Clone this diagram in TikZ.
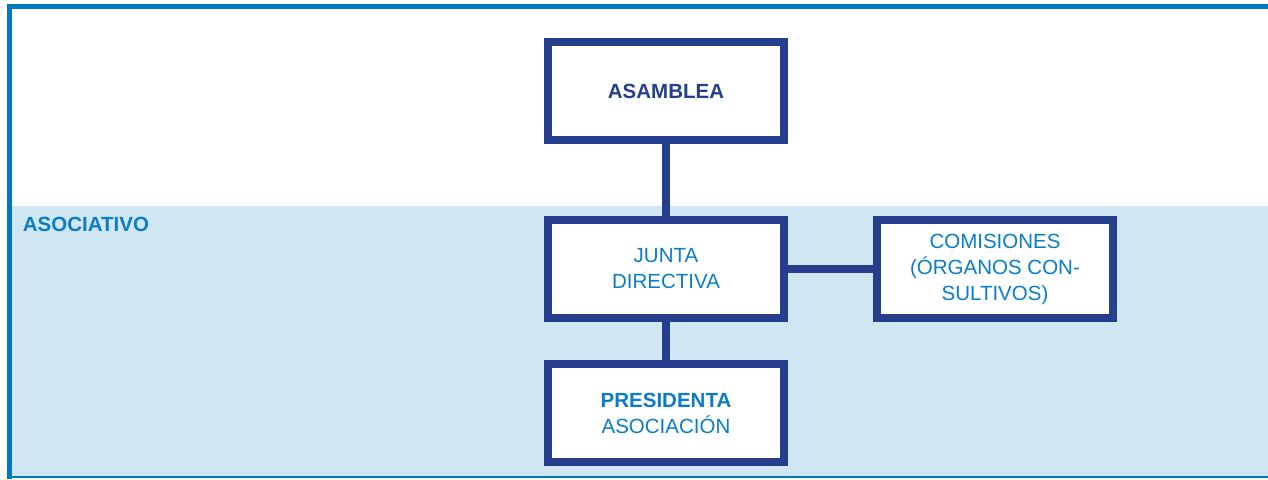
\documentclass[tikz,border=0pt]{standalone}
\usepackage{fontspec}
\setmainfont{Liberation Sans}
\usetikzlibrary{positioning}

\definecolor{navy}{RGB}{38,62,142}
\definecolor{midblue}{RGB}{10,125,198}
\definecolor{paleblue}{RGB}{209,230,243}
\definecolor{frameblue}{RGB}{0,120,193}

\tikzset{
  orgbox/.style={shape=rectangle, draw=navy, line width=8pt, fill=white,
    minimum width=236pt, minimum height=98pt, inner sep=0pt, align=center,
    text=midblue, font=\fontsize{20.5}{26}\selectfont},
  orglink/.style={draw=navy, line width=7.5pt},
}

\begin{document}
\begin{tikzpicture}[x=1pt, y=-1pt]
  \useasboundingbox (0,0) rectangle (1268,479);
  % band and frame
  \fill[paleblue] (12,206) rectangle (1268,477);
  \draw[frameblue, line width=2.5pt] (8,477) -- (1268,477);
  \draw[frameblue, line width=5.3pt] (9.8,479) -- (9.8,6.7) -- (1268,6.7);
  \node[anchor=base west, inner sep=0pt, text=midblue,
    font=\fontsize{20.5}{26}\selectfont\bfseries] (zona) at (22.7,231) {ASOCIATIVO};

  \node[orgbox, text=navy, font=\fontsize{20.5}{26}\selectfont\bfseries] (asamblea) at (666,91) {ASAMBLEA};
  \node[orgbox, below=72pt of asamblea] (junta) {JUNTA\\DIRECTIVA};
  \node[orgbox, right=85pt of junta] (comisiones) {COMISIONES\\(ÓRGANOS CON-\\SULTIVOS)};
  \node[orgbox, below=38pt of junta] (presidenta) {{\bfseries PRESIDENTA}\\ASOCIACIÓN};

  \draw[orglink] (asamblea.south) -- (junta.north);
  \draw[orglink] (junta.east) -- (comisiones.west);
  \draw[orglink] (junta.south) -- (presidenta.north);
\end{tikzpicture}
\end{document}
